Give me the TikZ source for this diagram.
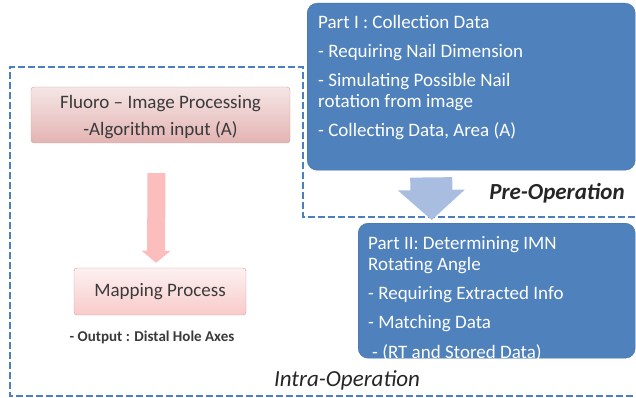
\documentclass[tikz,border=0pt]{standalone}
\usepackage{fontspec}
\setmainfont{Carlito}
\usetikzlibrary{arrows.meta, positioning}

\definecolor{partblue}{HTML}{4F81BD}
\definecolor{partedge}{HTML}{416FA8}
\definecolor{zoneblue}{HTML}{4A7FC0}
\definecolor{steel}{HTML}{A9BDE0}
\definecolor{rosetop}{HTML}{F5E6E5}
\definecolor{rosebot}{HTML}{E3B4B3}
\definecolor{rosedge}{HTML}{C9A4A3}
\definecolor{maptop}{HTML}{FDF1F1}
\definecolor{mapbot}{HTML}{F8CACA}
\definecolor{pinkarrow}{HTML}{FCBDBD}
\definecolor{txtgray}{HTML}{3A3A3A}

\begin{document}
\begin{tikzpicture}[
    x=1pt, y=-1pt,
    part/.style={rectangle, draw=partedge, fill=partblue, rounded corners=10pt, inner sep=0pt},
    parttext/.style={anchor=base west, align=left, text=white, inner sep=0pt, font=\fontsize{19}{21}\selectfont},
    procbox/.style={rectangle, draw=rosedge, rounded corners=3pt, align=center, text=txtgray, font=\fontsize{19}{21}\selectfont},
    phase/.style={inner sep=0pt, text=black!85, font=\fontsize{23}{25}\selectfont\itshape},
    zone/.style={draw=zoneblue, line width=2.4pt, dash pattern=on 7pt off 3pt},
    pinkflow/.style={draw=pinkarrow, line width=18pt, -{Triangle[length=12pt, width=29pt, line width=0pt]}},
    blueflow/.style={draw=steel, line width=42pt, -{Triangle[length=30pt, width=67pt, line width=0pt]}}
]
\useasboundingbox (0,0) rectangle (636,398);

% intra-operation zone
\draw[zone] (645,217) -- (303,217) -- (303,67) -- (10,67) -- (10,396) -- (645,396);

% pre-operation parts (text set from its last baseline)
\node[part, anchor=north west, minimum width=328pt, minimum height=167pt] (partone) at (307,3) {};
\node[parttext] (partonetext) at (318,137) {Part I : Collection Data\\[8pt]
    - Requiring Nail Dimension\\[8pt]
    - Simulating Possible Nail\\
    rotation from image\\[8pt]
    - Collecting Data, Area (A)};

\node[part, anchor=north west, minimum width=277pt, minimum height=135pt] (parttwo) at (358,223) {};
\node[parttext] (parttwotext) at (368,358) {Part II: Determining IMN\\
    Rotating Angle\\[8pt]
    - Requiring Extracted Info\\[8pt]
    - Matching Data\\[9pt]
    \hspace{4pt}- (RT and Stored Data)};

% intra-operation processing
\node[procbox, top color=rosetop, bottom color=rosebot, minimum width=259pt, minimum height=56pt] (fluoro) at (160.5,115)
    {\rule{0pt}{17pt}Fluoro -- Image Processing\\[6pt]-Algorithm input (A)};
\node[procbox, top color=maptop, bottom color=mapbot, minimum width=172pt, minimum height=47pt] (mapping) at (160,291.5)
    {Mapping Process};
\node[inner sep=0pt, text=txtgray, font=\fontsize{15}{17}\selectfont\bfseries] (output) at (152,337)
    {- Output : Distal Hole Axes};

\node[phase, font=\fontsize{23}{25}\selectfont\bfseries\itshape] (preop) at (557,193) {Pre-Operation};
\node[phase] (intraop) at (347,380) {Intra-Operation};

% flows
\draw[pinkflow] ([xshift=-4pt, yshift=-30pt]fluoro.south) -- ([xshift=-4pt, yshift=5pt]mapping.north);
\draw[blueflow] ([xshift=-40pt, yshift=-7pt]partone.south) -- ([xshift=-65pt, yshift=3pt]parttwo.north);

\end{tikzpicture}
\end{document}
